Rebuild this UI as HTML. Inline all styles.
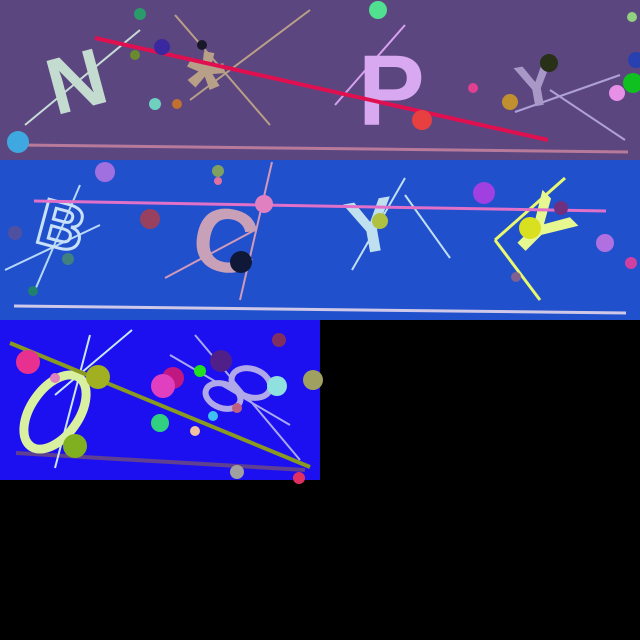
<!DOCTYPE html>
<html><head><meta charset="utf-8"><style>
html,body{margin:0;padding:0;background:#000;width:640px;height:640px;overflow:hidden}
svg{display:block}
text{font-family:"Liberation Sans",sans-serif;font-weight:bold}
</style></head><body>
<svg width="640" height="640" viewBox="0 0 640 640">
<rect width="640" height="640" fill="#000"/>
<g>
<rect x="0" y="0" width="640" height="160" fill="#5c467f"/>
<line x1="20" y1="145" x2="628" y2="152" stroke="#b87a9a" stroke-width="3"/>
<line x1="25" y1="125" x2="140" y2="30" stroke="#c8dcd8" stroke-width="2"/>
<line x1="175" y1="15" x2="270" y2="125" stroke="#b8a088" stroke-width="2"/>
<line x1="190" y1="100" x2="310" y2="10" stroke="#b8a088" stroke-width="2"/>
<line x1="335" y1="105" x2="405" y2="25" stroke="#d8a0f0" stroke-width="2"/>
<line x1="515" y1="112" x2="620" y2="75" stroke="#b0a0d8" stroke-width="2"/>
<line x1="550" y1="90" x2="625" y2="140" stroke="#b0a0d8" stroke-width="2"/>
<text x="45" y="105" font-size="80" fill="#c4dcd0" transform="rotate(-15 90 70)">N</text>
<text x="185" y="125" font-size="100" fill="#b8a088" transform="rotate(10 230 80)">*</text>
<text x="358" y="125" font-size="100" fill="#d8a8f0" font-family="Liberation Serif">P</text>
<text x="515" y="105" font-size="60" fill="#a898c8" transform="rotate(-10 540 80)">Y</text>
<line x1="95" y1="38" x2="548" y2="140" stroke="#e01050" stroke-width="4"/>
<circle cx="140" cy="14" r="6" fill="#2a9a6a"/><circle cx="162" cy="47" r="8" fill="#3a28a0"/>
<circle cx="135" cy="55" r="5" fill="#6a8a30"/><circle cx="202" cy="45" r="5" fill="#18182a"/>
<circle cx="155" cy="104" r="6" fill="#70d0c0"/><circle cx="177" cy="104" r="5" fill="#c07030"/>
<circle cx="378" cy="10" r="9" fill="#50e090"/><circle cx="422" cy="120" r="10" fill="#e84040"/>
<circle cx="473" cy="88" r="5" fill="#e04090"/><circle cx="510" cy="102" r="8" fill="#c09030"/>
<circle cx="549" cy="63" r="9" fill="#283018"/><circle cx="617" cy="93" r="8" fill="#e890e8"/>
<circle cx="633" cy="83" r="10" fill="#10c020"/><circle cx="636" cy="60" r="8" fill="#2840b0"/>
<circle cx="632" cy="17" r="5" fill="#90d080"/><circle cx="18" cy="142" r="11" fill="#40a8e0"/>
</g>
<g>
<rect x="0" y="160" width="640" height="160" fill="#2050cc"/>
<line x1="14" y1="306" x2="626" y2="313" stroke="#d0c8e8" stroke-width="3"/>
<line x1="5" y1="270" x2="100" y2="225" stroke="#b8d8f8" stroke-width="2"/>
<line x1="35" y1="290" x2="80" y2="185" stroke="#b8d8f8" stroke-width="2"/>
<line x1="165" y1="278" x2="255" y2="230" stroke="#d09ab8" stroke-width="2"/>
<line x1="240" y1="300" x2="272" y2="162" stroke="#d09ab8" stroke-width="2"/>
<line x1="352" y1="270" x2="405" y2="178" stroke="#c0e0f0" stroke-width="2"/>
<line x1="405" y1="195" x2="450" y2="258" stroke="#c0e0f0" stroke-width="2"/>
<line x1="495" y1="240" x2="565" y2="178" stroke="#e8f870" stroke-width="3"/>
<line x1="495" y1="240" x2="540" y2="300" stroke="#e8f870" stroke-width="3"/>
<text x="40" y="250" font-size="65" fill="none" stroke="#c8e0f8" stroke-width="3" transform="rotate(15 70 220)">B</text>
<text x="195" y="272" font-size="90" fill="#c8a0b8" transform="rotate(10 230 230)">C</text>
<text x="345" y="250" font-size="75" fill="#c0e0f0" transform="rotate(-10 380 220)">Y</text>
<text x="515" y="262" font-size="80" fill="#e8f890" transform="rotate(45 550 230)">Y</text>
<line x1="34" y1="201" x2="606" y2="211" stroke="#e070c8" stroke-width="3"/>
<circle cx="105" cy="172" r="10" fill="#a070e0"/><circle cx="150" cy="219" r="10" fill="#984060"/>
<circle cx="15" cy="233" r="7" fill="#5050a0"/><circle cx="68" cy="259" r="6" fill="#408080"/>
<circle cx="33" cy="291" r="5" fill="#208070"/><circle cx="218" cy="171" r="6" fill="#80a060"/>
<circle cx="218" cy="181" r="4" fill="#e070a0"/><circle cx="264" cy="204" r="9" fill="#e080c0"/>
<circle cx="241" cy="262" r="11" fill="#101838"/><circle cx="380" cy="221" r="8" fill="#b0c040"/>
<circle cx="484" cy="193" r="11" fill="#a040e0"/><circle cx="530" cy="228" r="11" fill="#d8e020"/>
<circle cx="561" cy="208" r="7" fill="#703080"/><circle cx="605" cy="243" r="9" fill="#b070e0"/>
<circle cx="631" cy="263" r="6" fill="#d040a0"/><circle cx="516" cy="277" r="5" fill="#806090"/>
</g>
<g>
<rect x="0" y="320" width="320" height="160" fill="#1c10f0"/>
<line x1="16" y1="453" x2="305" y2="470" stroke="#604090" stroke-width="4"/>
<line x1="55" y1="468" x2="90" y2="335" stroke="#c8e8f8" stroke-width="2"/>
<line x1="55" y1="395" x2="132" y2="330" stroke="#c8e8f8" stroke-width="2"/>
<line x1="170" y1="355" x2="290" y2="425" stroke="#a8a8f0" stroke-width="2"/>
<line x1="195" y1="335" x2="300" y2="460" stroke="#a8a8f0" stroke-width="2"/>
<ellipse cx="55" cy="412" rx="24" ry="42" fill="none" stroke="#d8f0a0" stroke-width="9" transform="rotate(35 55 412)"/>
<g fill="none" stroke="#b0a8e8" stroke-width="6">
<ellipse cx="223" cy="396" rx="12" ry="18" transform="rotate(-70 223 396)"/>
<ellipse cx="251" cy="383" rx="14" ry="20" transform="rotate(-70 251 383)"/>
</g>
<line x1="10" y1="343" x2="310" y2="467" stroke="#8a9a20" stroke-width="4"/>
<circle cx="28" cy="362" r="12" fill="#e83090"/><circle cx="55" cy="378" r="5" fill="#e080c0"/>
<circle cx="98" cy="377" r="12" fill="#a0b020"/><circle cx="75" cy="446" r="12" fill="#80b020"/>
<circle cx="173" cy="378" r="11" fill="#c01880"/><circle cx="163" cy="386" r="12" fill="#e040c0"/>
<circle cx="200" cy="371" r="6" fill="#20e020"/><circle cx="221" cy="361" r="11" fill="#502088"/>
<circle cx="279" cy="340" r="7" fill="#803060"/><circle cx="277" cy="386" r="10" fill="#90e0e0"/>
<circle cx="313" cy="380" r="10" fill="#a0a060"/><circle cx="160" cy="423" r="9" fill="#30d080"/>
<circle cx="195" cy="431" r="5" fill="#f0c0a0"/><circle cx="213" cy="416" r="5" fill="#40c0f0"/>
<circle cx="237" cy="408" r="5" fill="#c06080"/><circle cx="237" cy="472" r="7" fill="#a0a0a0"/>
<circle cx="299" cy="478" r="6" fill="#e03060"/>
</g>
</svg>
</body></html>
